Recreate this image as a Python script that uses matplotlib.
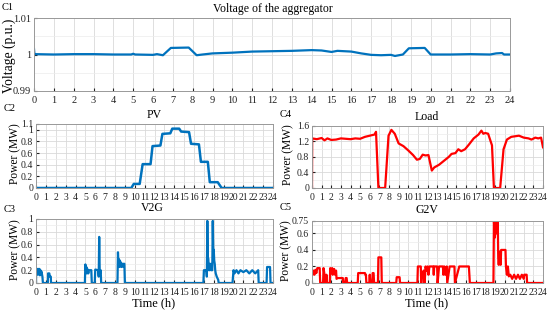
import numpy as np
import matplotlib.pyplot as plt
from matplotlib.ticker import MultipleLocator

plt.rcParams['font.family'] = ['Liberation Serif', 'DejaVu Serif']

BLUE = '#0072BD'
RED = '#FF0000'

# ---- data ----
volt_t = [0, 0.02, 0.05, 1, 2, 3, 4, 4.9, 5.0, 5.1, 6, 6.2, 6.5, 6.9, 7.8, 8.2, 8.5, 9, 10, 11,
          12, 13, 14, 14.5, 15, 15.3, 16, 16.5, 17, 17.5, 18, 18.2, 18.6, 18.9, 19.7, 20,
          21, 22, 23, 23.3, 23.6, 23.7, 24]
volt_v = [1.0015, 1.0002, 1.0001, 1.0, 1.0001, 1.0001, 1.0, 1.0, 1.0002, 1.0, 0.9999, 1.0001,
          0.9998, 1.0018, 1.0019, 0.9998, 1.0, 1.0003, 1.0005, 1.0008, 1.0009, 1.001, 1.0012,
          1.0011, 1.0007, 1.001, 1.0008, 1.0003, 0.9999, 0.9998, 0.9999, 0.9996, 1.0, 1.0017,
          1.0018, 1.0, 1.0, 1.0001, 1.0, 1.0003, 1.0004, 1.0, 1.0]

pv_t = [0, 9.65, 9.9, 10.5, 10.8, 11.6, 11.8, 12.6, 12.8, 13.6, 13.8, 14.5, 14.7, 15.5,
        15.7, 16.5, 16.7, 17.4, 17.6, 18.4, 18.8, 24]
pv_v = [0, 0, 0.07, 0.07, 0.41, 0.41, 0.72, 0.73, 0.93, 0.94, 1.02, 1.02, 0.97, 0.96,
        0.76, 0.75, 0.45, 0.45, 0.1, 0.1, 0, 0]

load_t = [0, 0.02, 0.5, 1, 1.3, 1.6, 2, 2.5, 3, 3.5, 4, 4.5, 5, 5.5, 6, 6.5, 6.65, 6.9, 7.6,
          7.95, 8.25, 8.6, 9.0, 9.5, 10.0, 10.5, 10.9, 11.2, 11.5, 11.8, 12.1, 12.45, 12.7,
          13.2, 13.7, 14.2, 14.5, 14.9, 15.2, 15.5, 15.9, 16.3, 16.8, 17.3, 17.6, 17.8, 18.0,
          18.3, 18.7, 18.9, 19.55, 19.9, 20.25, 20.7, 21.5, 22, 22.5, 22.8, 23.2, 23.5, 23.8, 24]
load_v = [0, 1.28, 1.26, 1.29, 1.23, 1.28, 1.24, 1.25, 1.28, 1.27, 1.26, 1.28, 1.27, 1.32,
          1.35, 1.38, 1.45, 0, 0, 1.35, 1.5, 1.4, 1.15, 1.08, 0.97, 0.85, 0.73, 0.75, 0.86,
          0.84, 0.85, 0.45, 0.53, 0.6, 0.7, 0.8, 0.88, 0.9, 1.0, 0.95, 1.0, 1.12, 1.28, 1.38,
          1.48, 1.4, 1.42, 1.4, 1.1, 0, 0, 1.0, 1.25, 1.32, 1.35, 1.3, 1.28, 1.25, 1.3, 1.28,
          1.3, 1.05]

v2g_t = [0, 0.02, 0.1, 0.15, 0.2, 0.25, 0.3, 0.35, 0.4, 0.45, 0.5, 0.55, 0.65, 0.7,
         1.2, 1.22, 1.35, 1.4, 1.5, 1.52,
         4.95, 5.0, 5.05, 5.1, 5.15, 5.2, 5.3, 5.35, 5.6, 5.65,
         5.95, 6.0, 6.3, 6.35, 6.4, 6.45, 6.5, 6.55, 6.6,
         8.25, 8.3, 8.35, 8.4, 8.45, 8.5, 8.55, 8.6, 8.65, 8.7, 8.75, 8.8, 8.85, 8.9, 8.95, 9.0,
         16.95, 17.0, 17.25, 17.3, 17.35, 17.4, 17.45, 17.5, 17.55, 17.6, 17.7, 17.75, 17.85,
         17.9, 17.95, 18.0, 18.05, 18.1, 18.15, 18.2, 18.3, 18.45, 18.5,
         19.9, 20.0, 20.1, 20.3, 20.5, 20.7, 21.0, 21.3, 21.6, 21.9, 22.2, 22.5, 22.55,
         23.35, 23.4, 23.7, 23.75, 24]
v2g_v = [0, 0.22, 0.14, 0.22, 0.13, 0.22, 0.15, 0.22, 0.12, 0.2, 0.15, 0.18, 0.1, 0,
         0, 0.15, 0.15, 0.1, 0.1, 0,
         0, 0.29, 0.2, 0.25, 0.15, 0.22, 0.15, 0.2, 0.2, 0,
         0, 0.21, 0.2, 0.1, 0.72, 0.2, 0.15, 0.2, 0,
         0, 0.48, 0.3, 0.37, 0.25, 0.35, 0.27, 0.32, 0.25, 0.3, 0.26, 0.3, 0.26, 0.3, 0.3, 0,
         0, 0.2, 0.2, 0.1, 0.97, 0.4, 0.38, 0.2, 0.3, 0.2, 0.3, 0.2, 0.2,
         0.97, 0.5, 0.52, 0.35, 0.3, 0.2, 0.15, 0.1, 0.05, 0,
         0, 0.2, 0.15, 0.2, 0.15, 0.2, 0.17, 0.2, 0.15, 0.2, 0.15, 0.2, 0,
         0, 0.25, 0.25, 0, 0]

g2v_t = [0, 0.05, 0.15, 0.25, 0.35, 0.45, 0.55, 0.6, 0.8, 0.85, 1.15, 1.2, 1.3, 1.35,
         1.45, 1.5, 1.55, 1.85, 1.9, 2.0, 2.1, 2.15, 2.3, 2.4, 2.5, 2.55, 2.65, 2.75, 3.2,
         3.25, 3.45, 3.5, 3.6, 3.65,
         4.75, 4.8, 5.5, 5.55, 5.6, 5.65, 5.95, 6.0, 6.05, 6.25, 6.3, 6.4, 6.45,
         6.85, 6.9, 7.2, 7.25, 8.75, 8.8, 9.1, 9.15,
         10.95, 11.0, 11.3, 11.35, 11.45, 11.5, 11.6, 11.7, 11.8, 11.9, 12.0, 12.1, 12.2,
         12.6, 12.65, 12.7, 13.0, 13.05, 13.2, 13.6, 13.65, 13.75, 13.85, 14.0, 14.05, 14.3,
         14.8, 14.85, 15.3, 16.3, 16.4,
         18.85, 18.9, 19.0, 19.1, 19.2, 19.3, 19.35, 19.4, 19.5, 19.6, 19.65, 20.1, 20.15,
         20.25, 20.35, 20.45, 20.6, 20.8, 21.0, 21.2, 21.4, 21.6, 21.8, 22.0, 22.05, 22.15,
         22.3, 22.35, 24]
g2v_v = [0.15, 0.1, 0.15, 0.1, 0.16, 0.12, 0.18, 0.18, 0.18, 0, 0, 0.18, 0.1, 0,
         0, 0.1, 0, 0, 0.18, 0.12, 0.18, 0.1, 0.17, 0.1, 0.15, 0.05, 0.06, 0.06, 0.06,
         0, 0, 0.06, 0.06, 0,
         0, 0.12, 0.12, 0.1, 0.1, 0, 0, 0.1, 0, 0, 0.12, 0.12, 0,
         0, 0.31, 0.31, 0, 0, 0.07, 0.07, 0,
         0, 0.2, 0.2, 0, 0.13, 0.1, 0.15, 0, 0.2, 0.15, 0.2, 0.1, 0.2,
         0.2, 0.1, 0.2, 0.2, 0, 0.2, 0.2, 0.1, 0.2, 0.1, 0.2, 0, 0.2,
         0.2, 0, 0.2, 0.2, 0,
         0, 0.75, 0.55, 0.75, 0.6, 0.75, 0.3, 0.22, 0.38, 0.22, 0.4, 0.4, 0.2,
         0.1, 0.2, 0.08, 0.1, 0.05, 0.1, 0.05, 0.1, 0.05, 0.1, 0.05, 0.1, 0.1,
         0.1, 0, 0]

hours = list(range(25))

fig = plt.figure(figsize=(5.5, 3.21), dpi=100)
W, H = 550, 321


def add_ax(l, t, r, b):
    return fig.add_axes([l / W, 1 - b / H, (r - l) / W, (b - t) / H])


def ftext(x, y, s, size, **kw):
    # place text by pixel position (from the top-left corner)
    fig.text(x / W, 1 - y / H, s, fontsize=size, ha='center', va='center', **kw)


def style(ax, ylim, yticks, ylabels, yminor, size=7):
    ax.set_xlim(0, 24)
    ax.set_ylim(*ylim)
    ax.set_xticks(hours)
    ax.set_xticklabels([str(h) for h in hours])
    ax.set_yticks(yticks)
    ax.set_yticklabels(ylabels)
    ax.yaxis.set_minor_locator(MultipleLocator(yminor))
    ax.grid(True, which='major', color='#d9d9d9', lw=0.6)
    ax.grid(True, which='minor', axis='y', color='#ececec', lw=0.5)
    ax.set_axisbelow(True)
    ax.tick_params(direction='in', length=2, labelsize=size, colors='#222222')
    ax.tick_params(axis='x', pad=3.5)
    ax.tick_params(axis='y', pad=2)
    ax.tick_params(which='minor', length=0)
    for s in ax.spines.values():
        s.set_color('#999999')
        s.set_linewidth(0.7)


# C1 voltage
ax1 = add_ax(34, 18, 510, 91)
ax1.plot(volt_t, volt_v, color=BLUE, lw=1.6)
style(ax1, (0.99, 1.01), [0.99, 1.0, 1.01], ['0.99', '1', '1.01'], 0.005, size=7.5)
ftext(273, 9, 'Voltage of the aggregator', 8.5)
ftext(9, 56, 'Voltage (p.u.)', 9.8, rotation=90)

# C2 PV
ax2 = add_ax(36, 124, 273, 188)
ax2.plot(pv_t, pv_v, color=BLUE, lw=1.8)
style(ax2, (0, 1.1), [0, 0.2, 0.4, 0.6, 0.8, 1.0, 1.1],
      ['0', '0.2', '0.4', '0.6', '0.8', '1', '1.1'], 0.1)
ftext(154, 115, 'PV', 8.5)
ftext(15, 154, 'Power (MW)', 8.3, rotation=90)

# C4 Load
ax4 = add_ax(312, 126, 543, 188)
ax4.plot(load_t, load_v, color=RED, lw=1.6)
style(ax4, (0, 1.6), [0, 0.4, 0.8, 1.2, 1.6], ['0', '0.4', '0.8', '1.2', '1.6'], 0.2)
ftext(427, 117, 'Load', 8.5)
ftext(288, 155, 'Power (MW)', 8.3, rotation=90)

# C3 V2G
ax3 = add_ax(36, 219, 273, 283)
ax3.plot(v2g_t, v2g_v, color=BLUE, lw=1.6)
style(ax3, (0, 1.0), [0, 0.2, 0.4, 0.6, 0.8, 1.0], ['0', '0.2', '0.4', '0.6', '0.8', '1'], 0.1)
ftext(152, 208, 'V2G', 8.5)
ftext(15, 250, 'Power (MW)', 8.3, rotation=90)
ftext(154, 303, 'Time (h)', 9)

# C5 G2V
ax5 = add_ax(312, 221, 543, 283)
ax5.plot(g2v_t, g2v_v, color=RED, lw=1.6)
style(ax5, (0, 0.75), [0, 0.2, 0.4, 0.6, 0.75], ['0', '0.2', '0.4', '0.6', '0.75'], 0.1)
ftext(427, 210, 'G2V', 8.5)
ftext(286, 251, 'Power (MW)', 8.3, rotation=90)
ftext(427, 303, 'Time (h)', 9)

# panel tags
for txt, x, y in [('C1', 8, 7), ('C2', 10, 109), ('C4', 286, 115), ('C3', 10, 210), ('C5', 286, 208)]:
    ftext(x, y, txt, 7.5)

fig.savefig('out.png', dpi=100)
